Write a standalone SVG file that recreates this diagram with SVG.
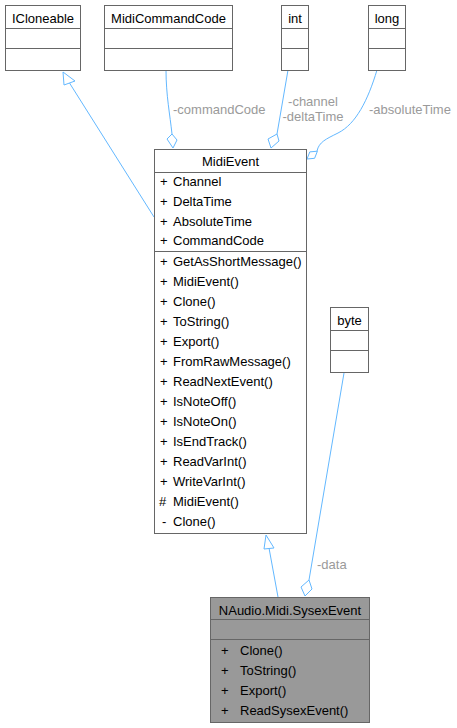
<svg xmlns="http://www.w3.org/2000/svg" width="457" height="728" viewBox="0 0 457 728">
<style>
text{font-family:"Liberation Sans",Arial,Helvetica,sans-serif;font-size:13px;fill:#000}
.box{fill:#fff;stroke:#666;stroke-width:1}
.gbox{fill:#999;stroke:#666;stroke-width:1}
.sep{stroke:#666;stroke-width:1}
.c{text-anchor:middle}
.edge{fill:none;stroke:#63b8ff;stroke-width:1}
.head{fill:#fff;stroke:#63b8ff;stroke-width:1}
.lbl{fill:#9a9a9a}
</style>
<rect width="457" height="728" fill="#fff"/>
<g id="connectors">
  <!-- MidiEvent -> ICloneable -->
  <path class="edge" d="M154,217 L69.5,83"/>
  <polygon class="head" points="63,72 64,85 75,81"/>
  <!-- MidiCommandCode -> MidiEvent -->
  <path class="edge" d="M166,70 C166,95 170,115 172,134"/>
  <polygon class="head" points="173,148 167,139 172,134 177,140"/>
  <text class="lbl" x="173" y="114">-commandCode</text>
  <!-- int -> MidiEvent -->
  <path class="edge" d="M288,70 L277,134"/>
  <polygon class="head" points="271,148 268,139 277,134 279,141"/>
  <text class="lbl c" x="313" y="106">-channel</text>
  <text class="lbl c" x="313" y="121">-deltaTime</text>
  <!-- long -> MidiEvent -->
  <path class="edge" d="M377,70 C368,100 356,124 338,133 C326,139 319,142 317,151"/>
  <polygon class="head" points="307,159 309.8,151.9 317.4,151.2 314.6,158.3"/>
  <text class="lbl" x="369" y="114">-absoluteTime</text>
  <!-- SysexEvent -> MidiEvent -->
  <path class="edge" d="M278,597 L269,548"/>
  <polygon class="head" points="266,535 264,549 274,548"/>
  <!-- byte -> SysexEvent -->
  <path class="edge" d="M344,373 L309,580"/>
  <polygon class="head" points="305,596 301,587 309,580 312,589"/>
  <text class="lbl" x="317" y="569">-data</text>
</g>
<g id="ICloneable">
  <rect class="box" x="5.5" y="5.5" width="75" height="65"/>
  <line class="sep" x1="5.5" y1="28.5" x2="80.5" y2="28.5"/>
  <line class="sep" x1="5.5" y1="48.5" x2="80.5" y2="48.5"/>
  <text class="c" x="43" y="23">ICloneable</text>
</g>
<g id="MidiCommandCode">
  <rect class="box" x="104.5" y="5.5" width="128" height="65"/>
  <line class="sep" x1="104.5" y1="28.5" x2="232.5" y2="28.5"/>
  <line class="sep" x1="104.5" y1="48.5" x2="232.5" y2="48.5"/>
  <text class="c" x="168.5" y="23">MidiCommandCode</text>
</g>
<g id="int">
  <rect class="box" x="281.5" y="5.5" width="27" height="65"/>
  <line class="sep" x1="281.5" y1="28.5" x2="308.5" y2="28.5"/>
  <line class="sep" x1="281.5" y1="48.5" x2="308.5" y2="48.5"/>
  <text class="c" x="295" y="23">int</text>
</g>
<g id="long">
  <rect class="box" x="368.5" y="5.5" width="37" height="65"/>
  <line class="sep" x1="368.5" y1="28.5" x2="405.5" y2="28.5"/>
  <line class="sep" x1="368.5" y1="48.5" x2="405.5" y2="48.5"/>
  <text class="c" x="387" y="23">long</text>
</g>
<g id="MidiEvent">
  <rect class="box" x="154.5" y="149.5" width="152" height="384"/>
  <line class="sep" x1="154.5" y1="172.5" x2="306.5" y2="172.5"/>
  <line class="sep" x1="154.5" y1="251.5" x2="306.5" y2="251.5"/>
  <text class="c" x="230.5" y="166">MidiEvent</text>
  <g>
    <text x="160" y="186">+</text><text x="173" y="186">Channel</text>
    <text x="160" y="206">+</text><text x="173" y="206">DeltaTime</text>
    <text x="160" y="226">+</text><text x="173" y="226">AbsoluteTime</text>
    <text x="160" y="245">+</text><text x="173" y="245">CommandCode</text>
  </g>
  <g>
    <text x="160" y="266">+</text><text x="173" y="266">GetAsShortMessage()</text>
    <text x="160" y="286">+</text><text x="173" y="286">MidiEvent()</text>
    <text x="160" y="306">+</text><text x="173" y="306">Clone()</text>
    <text x="160" y="326">+</text><text x="173" y="326">ToString()</text>
    <text x="160" y="346">+</text><text x="173" y="346">Export()</text>
    <text x="160" y="366">+</text><text x="173" y="366">FromRawMessage()</text>
    <text x="160" y="386">+</text><text x="173" y="386">ReadNextEvent()</text>
    <text x="160" y="406">+</text><text x="173" y="406">IsNoteOff()</text>
    <text x="160" y="426">+</text><text x="173" y="426">IsNoteOn()</text>
    <text x="160" y="446">+</text><text x="173" y="446">IsEndTrack()</text>
    <text x="160" y="466">+</text><text x="173" y="466">ReadVarInt()</text>
    <text x="160" y="486">+</text><text x="173" y="486">WriteVarInt()</text>
    <text x="159" y="506">#</text><text x="173" y="506">MidiEvent()</text>
    <text x="162" y="526">-</text><text x="173" y="526">Clone()</text>
  </g>
</g>
<g id="byte">
  <rect class="box" x="330.5" y="307.5" width="38" height="65"/>
  <line class="sep" x1="330.5" y1="330.5" x2="368.5" y2="330.5"/>
  <line class="sep" x1="330.5" y1="350.5" x2="368.5" y2="350.5"/>
  <text class="c" x="349.5" y="325">byte</text>
</g>
<g id="SysexEvent">
  <rect class="gbox" x="210.5" y="597.5" width="159" height="125"/>
  <line class="sep" x1="210.5" y1="619.5" x2="369.5" y2="619.5"/>
  <line class="sep" x1="210.5" y1="639.5" x2="369.5" y2="639.5"/>
  <text class="c" x="290" y="615">NAudio.Midi.SysexEvent</text>
  <text x="221" y="655">+</text><text x="240" y="655">Clone()</text>
  <text x="221" y="675">+</text><text x="240" y="675">ToString()</text>
  <text x="221" y="695">+</text><text x="240" y="695">Export()</text>
  <text x="221" y="715">+</text><text x="240" y="715">ReadSysexEvent()</text>
</g>
</svg>
